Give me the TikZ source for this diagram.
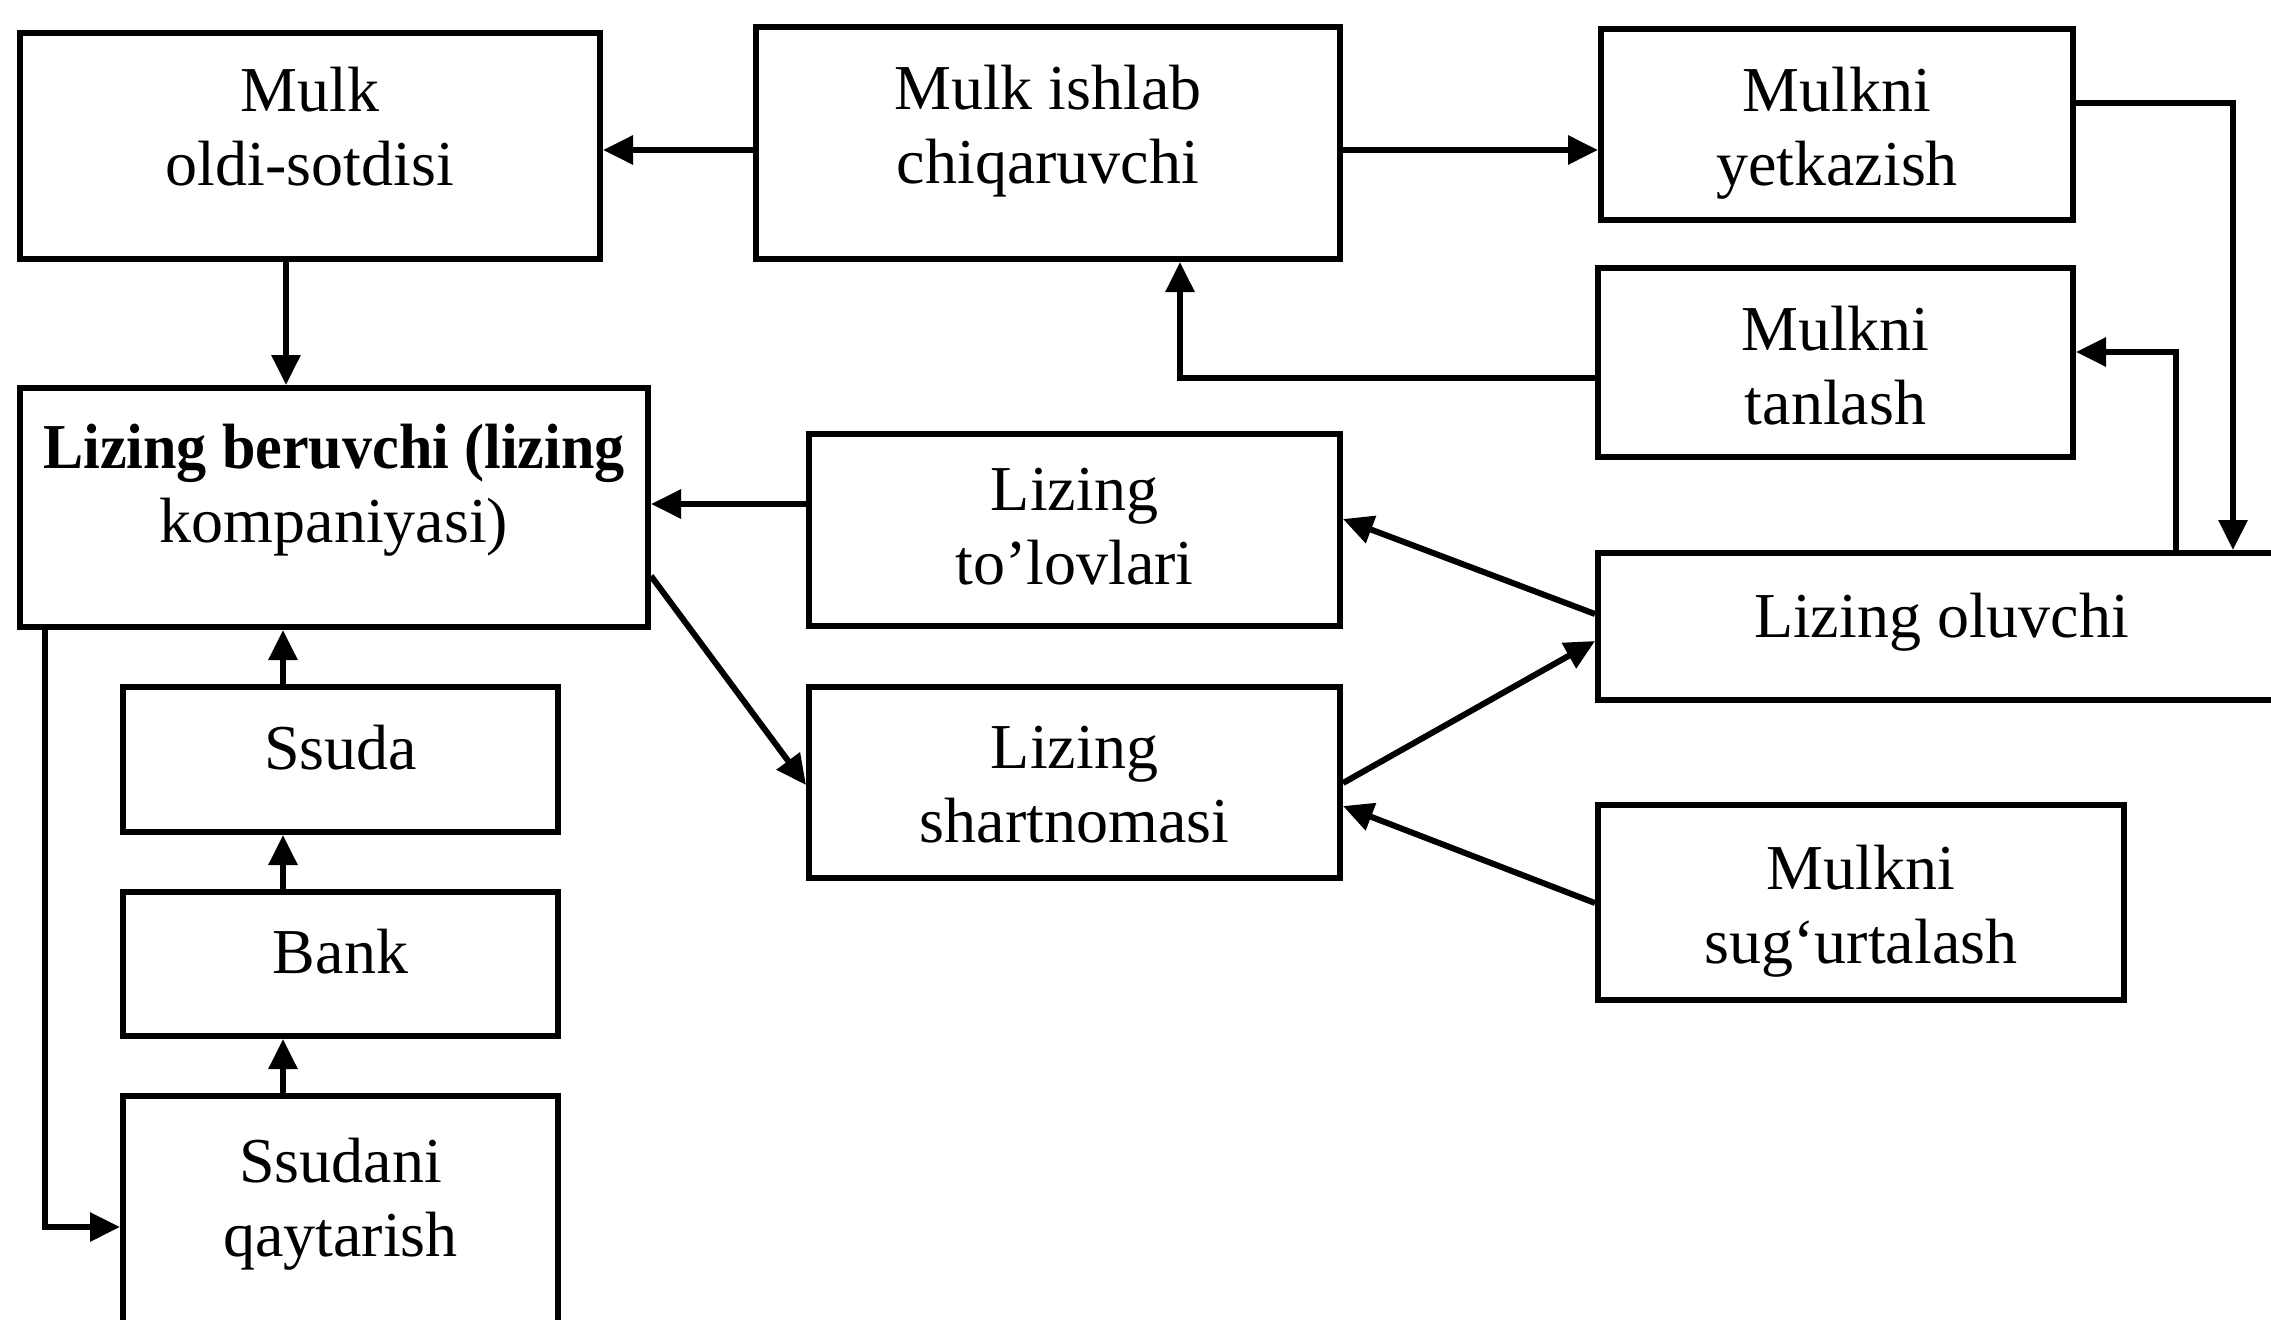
\documentclass[tikz,border=0pt]{standalone}
\usepackage{fontspec}
\setmainfont{Liberation Serif}
\usetikzlibrary{arrows.meta}
\begin{document}
\begin{tikzpicture}[x=1pt,y=-1pt,
  box/.style={draw=black, line width=6pt, inner sep=0pt},
  txt/.style={inner sep=0pt, align=center, font=\fontsize{64pt}{74pt}\selectfont},
  arr/.style={draw=black, line width=6pt, line join=miter,
    -{Triangle[length=30pt,width=28pt]}}]
\useasboundingbox (0,0) rectangle (2271,1320);
\fill[white] (0,0) rectangle (2271,1320);
\clip (0,0) rectangle (2271,1320);

\node[box, minimum width=580pt, minimum height=226pt,
  label={[txt,yshift=19pt]center:{Mulk\\oldi-sotdisi}}] (A) at (310,146) {};
\node[box, minimum width=584pt, minimum height=232pt,
  label={[txt,yshift=12pt]center:{Mulk ishlab\\chiqaruvchi}}] (B) at (1048,143) {};
\node[box, minimum width=472pt, minimum height=191pt,
  label={[txt,yshift=-9pt]center:{Mulkni\\yetkazish}}] (C) at (1837,124.5) {};
\node[box, minimum width=475pt, minimum height=189pt,
  label={[txt,yshift=-3pt]center:{Mulkni\\tanlash}}] (D) at (1835.5,362.5) {};
\node[box, minimum width=628pt, minimum height=239pt,
  label={[txt,yshift=17pt]center:{\bfseries\scalebox{0.94}[1]{Lizing beruvchi (lizing}\\kompaniyasi)}}] (LB) at (334,507.5) {};
\node[box, minimum width=531pt, minimum height=192pt,
  label={[txt,yshift=3pt]center:{Lizing\\to’lovlari}}] (LT) at (1074.5,530) {};
\node[box, minimum width=687pt, minimum height=147pt,
  label={[txt,yshift=4pt]center:{Lizing oluvchi}}] (LO) at (1941.5,626.5) {};
\node[box, minimum width=435pt, minimum height=145pt,
  label={[txt,yshift=12pt]center:{Ssuda}}] (SS) at (340.5,759.5) {};
\node[box, minimum width=435pt, minimum height=144pt,
  label={[txt,yshift=12pt]center:{Bank}}] (BK) at (340.5,964) {};
\node[box, minimum width=435pt, minimum height=240pt,
  label={[txt,yshift=12pt]center:{Ssudani\\qaytarish}}] (SQ) at (340.5,1216) {};
\node[box, minimum width=531pt, minimum height=191pt,
  label={[txt,yshift=-2pt]center:{Lizing\\shartnomasi}}] (LS) at (1074.5,782.5) {};
\node[box, minimum width=526pt, minimum height=195pt,
  label={[txt,yshift=-9pt]center:{Mulkni\\sug‘urtalash}}] (MS) at (1861,902.5) {};

\draw[arr] (B.west |- 0,150) -- (A.east |- 0,150);
\draw[arr] (B.east |- 0,150) -- (C.west |- 0,150);
\draw[arr] (C.east |- 0,103) -| (LO.north -| 2233,0);
\draw[arr] (LO.north -| 2176,0) |- (D.east |- 0,352);
\draw[arr] (D.west |- 0,378) -| (B.south -| 1180,0);
\draw[arr] (A.south -| 286,0) -- (LB.north -| 286,0);
\draw[arr] (LT.west |- 0,504) -- (LB.east |- 0,504);
\draw[arr] (LB.east |- 0,576) -- (LS.west |- 0,785);
\draw[arr] (LO.west |- 0,614) -- (LT.east |- 0,519);
\draw[arr] (LS.east |- 0,783) -- (LO.west |- 0,641);
\draw[arr] (MS.west |- 0,903) -- (LS.east |- 0,806);
\draw[arr] (SS.north -| 283,0) -- (LB.south -| 283,0);
\draw[arr] (BK.north -| 283,0) -- (SS.south -| 283,0);
\draw[arr] (SQ.north -| 283,0) -- (BK.south -| 283,0);
\draw[arr] (LB.south -| 45,0) |- (SQ.west |- 0,1227);
\end{tikzpicture}
\end{document}
